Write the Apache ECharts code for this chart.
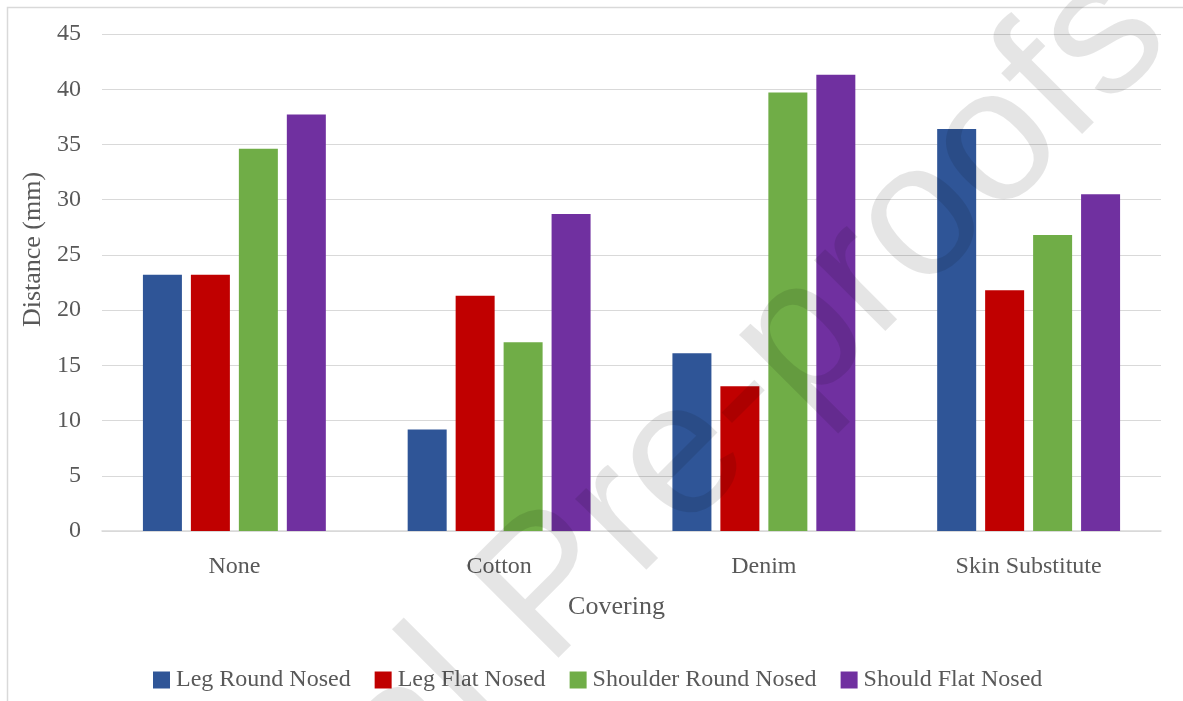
<!DOCTYPE html>
<html>
<head>
<meta charset="utf-8">
<script src="https://cdn.jsdelivr.net/npm/echarts@6/dist/echarts.min.js"></script>
<style>
html,body{margin:0;padding:0;background:#fff;}
#chart{width:1183px;height:701px;}
</style>
</head>
<body>
<div id="chart"></div>
<script>
const categories = ["None", "Cotton", "Denim", "Skin Substitute"];
const seriesNames = ["Leg Round Nosed", "Leg Flat Nosed", "Shoulder Round Nosed", "Should Flat Nosed"];
const legRoundNosed = [23.2, 9.2, 16.1, 36.4];
const legFlatNosed = [23.2, 21.3, 13.1, 21.8];
const shoulderRoundNosed = [34.6, 17.1, 39.7, 26.8];
const shouldFlatNosed = [37.7, 28.7, 41.3, 30.5];
const yTicks = { min: 0, max: 45, interval: 5 };
const colors = ["#2F5597", "#C00000", "#70AD47", "#7030A0"];
const watermark = "Journal Pre-proofs";

const font = "'Liberation Serif', 'Times New Roman', serif";
const textColor = "#595959";
const values = [legRoundNosed, legFlatNosed, shoulderRoundNosed, shouldFlatNosed];

const chart = echarts.init(document.getElementById('chart'));
chart.setOption({
  animation: false,
  backgroundColor: '#ffffff',
  textStyle: { fontFamily: font },
  grid: { left: 102, right: 22, top: 34, bottom: 170, containLabel: false },
  legend: {
    data: seriesNames,
    left: 148,
    top: 663,
    itemWidth: 17,
    itemHeight: 17,
    itemGap: 24,
    icon: 'rect',
    textStyle: { fontFamily: font, fontSize: 24, lineHeight: 24, color: textColor, padding: [0, 0, 0, 1] }
  },
  xAxis: {
    type: 'category',
    data: categories,
    name: 'Covering',
    nameLocation: 'middle',
    nameGap: 63,
    nameTextStyle: { fontFamily: font, fontSize: 26, color: textColor, padding: [0, 30, 0, 0] },
    axisLine: { lineStyle: { color: '#d9d9d9', width: 1.5 } },
    axisTick: { show: false },
    axisLabel: { fontFamily: font, fontSize: 24, color: textColor, margin: 24 }
  },
  yAxis: {
    type: 'value',
    min: yTicks.min,
    max: yTicks.max,
    interval: yTicks.interval,
    name: 'Distance (mm)',
    nameLocation: 'middle',
    nameGap: 49,
    nameTextStyle: { fontFamily: font, fontSize: 26, color: textColor, padding: [0, 0, 0, 66] },
    axisLine: { show: false },
    axisTick: { show: false },
    axisLabel: { fontFamily: font, fontSize: 24, color: textColor, margin: 21, padding: [7, 0, 0, 0] },
    splitLine: { lineStyle: { color: '#d9d9d9', width: 1.2 } }
  },
  series: seriesNames.map((n, i) => ({
    name: n,
    type: 'bar',
    data: values[i],
    barWidth: 39,
    barGap: '23%',
    itemStyle: { color: colors[i] }
  })),
  graphic: [
    {
      type: 'rect',
      silent: true,
      z: 0,
      shape: { x: 7.5, y: 7.5, width: 1300, height: 800 },
      style: { fill: 'none', stroke: '#d9d9d9', lineWidth: 1.5 }
    },
    {
      type: 'text',
      silent: true,
      z: 100,
      x: 585,
      y: 557,
      rotation: Math.PI / 4,
      style: {
        text: watermark,
        font: "190px 'Liberation Sans', Arial, sans-serif",
        fill: 'rgba(0,0,0,0.1)',
        align: 'center',
        verticalAlign: 'middle'
      }
    }
  ]
});
</script>
</body>
</html>
